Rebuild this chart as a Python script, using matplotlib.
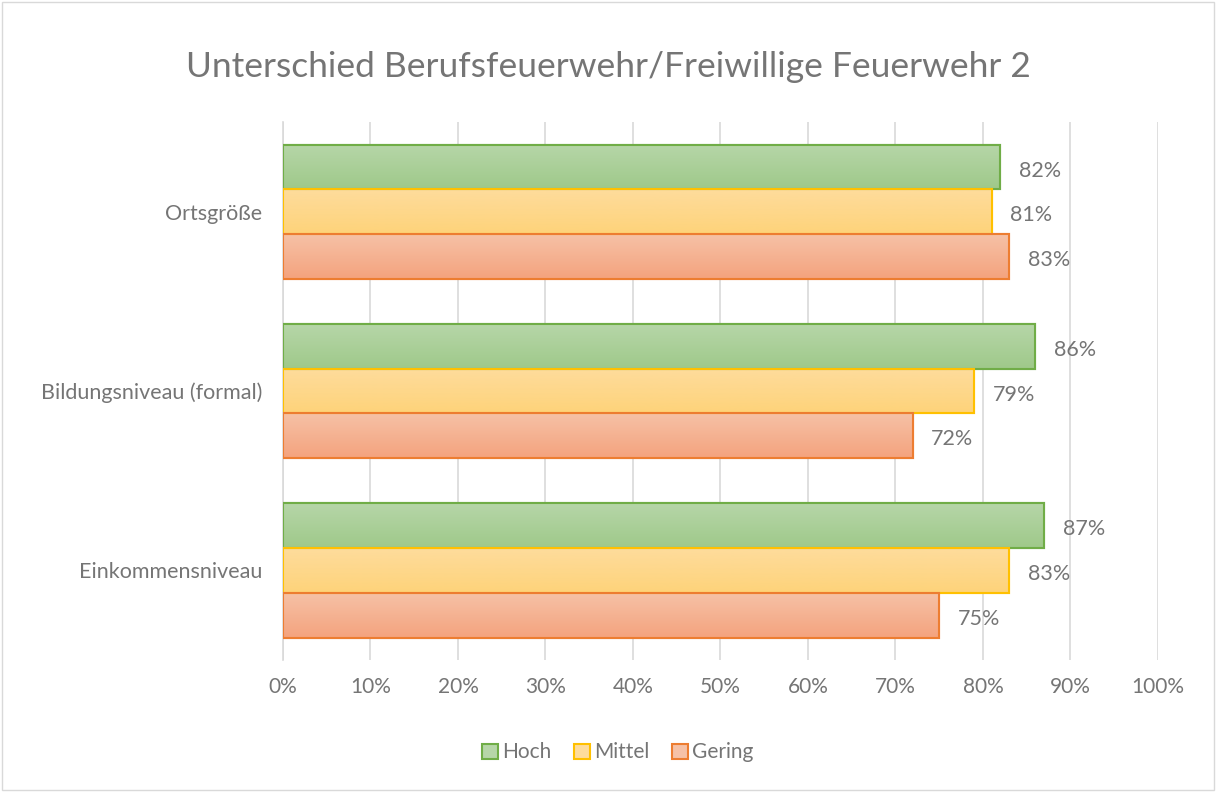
import matplotlib.pyplot as plt
import numpy as np
from matplotlib.colors import LinearSegmentedColormap
from matplotlib.patches import Rectangle

# Daten
kategorien = ["Ortsgröße", "Bildungsniveau (formal)", "Einkommensniveau"]
serien = ["Hoch", "Mittel", "Gering"]
hoch = [82, 86, 87]
mittel = [81, 79, 83]
gering = [83, 72, 75]
ticks = [0, 10, 20, 30, 40, 50, 60, 70, 80, 90, 100]

werte = [hoch, mittel, gering]
farben_oben = ["#b6d6a8", "#fedc9c", "#f6c1a6"]
farben_unten = ["#9fc98a", "#fed37a", "#f4a37e"]
rand = ["#70ad47", "#ffc000", "#ed7d31"]
grau = "#757575"

plt.rcParams['font.family'] = ['Lato', 'DejaVu Sans']

fig = plt.figure(figsize=(12.16, 7.92), dpi=100)
ax = fig.add_axes([0.2327, 0.1667, 0.7196, 0.679])

h = 0.25
y = np.arange(len(kategorien))
for i, (vals, c1, c2, ec, name) in enumerate(zip(werte, farben_oben, farben_unten, rand, serien)):
    pos = y - h + i * h
    bars = ax.barh(pos, vals, height=h, color=c2, edgecolor=ec, linewidth=1.5, label=name, zorder=3)
    cmap = LinearSegmentedColormap.from_list("g", [c1, c2])
    for b in bars:
        x0, y0 = b.get_x(), b.get_y()
        im = ax.imshow(np.linspace(0, 1, 50).reshape(-1, 1), cmap=cmap, aspect='auto',
                       extent=[x0, x0 + b.get_width(), y0, y0 + b.get_height()],
                       origin='lower', zorder=3.5)
        im.set_clip_path(b)
        r = Rectangle((x0, y0), b.get_width(), b.get_height(), fill=False,
                      edgecolor=ec, linewidth=1.5, zorder=4)
        ax.add_patch(r)
    for p, v in zip(pos, vals):
        ax.text(v + 2.1, p + 0.02, f"{v}%", va='center', ha='left', fontsize=15.5, color=grau, zorder=5)

ax.set_xlim(0, 100)
ax.set_ylim(2.5, -0.5)
ax.set_xticks(ticks)
ax.set_xticklabels([f"{t}%" for t in ticks], fontsize=15, color=grau)
ax.set_yticks(y)
ax.set_yticklabels(kategorien, fontsize=15.5, color=grau)
ax.tick_params(length=0, pad=12)
ax.tick_params(axis='y', pad=15)
ax.grid(axis='x', color="#d9d9d9", linewidth=1.2, zorder=0)
for s in ['top', 'right', 'bottom']:
    ax.spines[s].set_visible(False)
ax.spines['left'].set_color("#d9d9d9")
ax.spines['left'].set_linewidth(1.2)

fig.suptitle("Unterschied Berufsfeuerwehr/Freiwillige Feuerwehr 2", y=0.935, fontsize=25.5, color=grau)

leg = fig.legend(*ax.get_legend_handles_labels(), loc='center', bbox_to_anchor=(0.508, 0.05), ncol=3,
                 frameon=False, fontsize=15, handlelength=0.75, handleheight=0.75,
                 handletextpad=0.2, columnspacing=1.1, labelcolor=grau)
for hnd, c1 in zip(leg.legend_handles, farben_oben):
    hnd.set_facecolor(c1)

fig.add_artist(Rectangle((0.002, 0.002), 0.996, 0.996, transform=fig.transFigure,
                         fill=False, edgecolor="#d9d9d9", linewidth=1))

fig.savefig("out.png", dpi=100)
